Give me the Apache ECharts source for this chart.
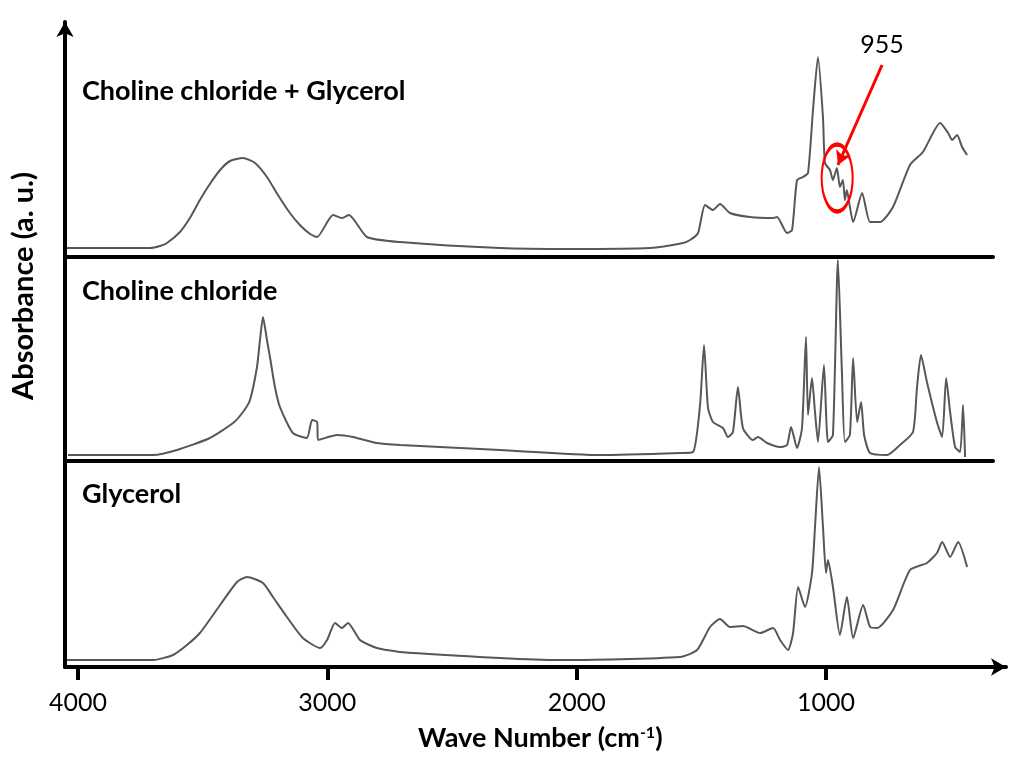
<!DOCTYPE html>
<html><head><meta charset="utf-8">
<script src="https://cdn.jsdelivr.net/npm/echarts@6/dist/echarts.min.js"></script>
<style>html,body{margin:0;padding:0;background:#fff}#c{width:1015px;height:758px}</style>
</head><body><div id="c"></div><script>
// Wave numbers (cm-1) and absorbance (a. u.)
const wnMix = [4044,3711,3671,3643,3591,3551,3511,3471,3430,3390,3338,3290,3242,3198,3150,3110,3069,3041,2977,2941,2913,2841,2708,2307,2027,1706,1573,1545,1513,1485,1453,1425,1385,1305,1212,1196,1156,1136,1116,1092,1072,1052,1032,1012,1004,984,972,956,944,932,924,916,904,891,855,823,783,731,663,611,542,510,494,474,454,434];
const absMix = [0.09,0.09,0.11,0.14,0.25,0.39,0.57,0.73,0.87,0.96,0.99,0.94,0.80,0.62,0.44,0.32,0.23,0.20,0.42,0.39,0.42,0.20,0.15,0.09,0.08,0.09,0.14,0.17,0.24,0.52,0.47,0.53,0.44,0.40,0.39,0.40,0.24,0.27,0.77,0.80,0.84,1.47,2.00,1.40,0.94,0.87,0.77,0.89,0.70,0.77,0.57,0.67,0.50,0.35,0.64,0.35,0.35,0.50,0.92,1.05,1.34,1.24,1.17,1.22,1.10,1.02];

const wnChCl = [4040,3699,3603,3471,3378,3338,3310,3282,3270,3258,3242,3230,3210,3190,3138,3082,3061,3041,3037,2961,2897,2801,2708,2307,1906,1585,1533,1505,1489,1473,1453,1413,1393,1373,1353,1333,1293,1273,1236,1184,1156,1140,1116,1096,1080,1072,1056,1044,1032,1008,992,972,952,936,924,904,891,875,859,847,823,755,703,651,635,619,595,555,534,518,502,482,462,450,442];
const absChCl = [0.06,0.06,0.11,0.23,0.38,0.49,0.61,0.94,1.21,1.44,1.21,1.04,0.74,0.54,0.28,0.23,0.41,0.39,0.21,0.26,0.24,0.18,0.16,0.11,0.06,0.08,0.09,0.56,1.16,0.53,0.39,0.33,0.24,0.29,0.74,0.33,0.21,0.24,0.18,0.14,0.16,0.34,0.13,0.33,1.24,0.46,0.83,0.49,0.19,0.96,0.19,0.26,2.01,0.89,0.19,0.26,1.03,0.39,0.59,0.26,0.08,0.06,0.16,0.29,0.73,1.06,0.79,0.39,0.24,0.83,0.49,0.14,0.09,0.56,0.04];

const wnGly = [4044,3699,3619,3563,3511,3430,3362,3322,3258,3218,3162,3098,3029,3001,2969,2941,2917,2869,2801,2708,2307,2067,1585,1517,1465,1425,1385,1333,1264,1212,1184,1152,1132,1112,1084,1056,1044,1028,1012,1000,992,972,944,916,891,851,823,795,731,663,595,555,534,502,470,434];
const absGly = [0.07,0.07,0.12,0.22,0.34,0.62,0.85,0.90,0.84,0.70,0.50,0.29,0.19,0.27,0.44,0.39,0.44,0.27,0.19,0.15,0.09,0.07,0.10,0.17,0.40,0.48,0.40,0.41,0.34,0.39,0.27,0.17,0.34,0.80,0.60,0.94,1.40,2.00,1.40,0.94,1.07,0.80,0.32,0.70,0.29,0.62,0.40,0.39,0.57,0.97,1.04,1.14,1.25,1.10,1.25,1.00];

const panelLabels = ['Choline chloride + Glycerol', 'Choline chloride', 'Glycerol'];
const xTicks = [4000, 3000, 2000, 1000];
const markedPeak = 955;            // annotated band (cm-1)
const markedPeakAbs = 0.79;        // ellipse centre height
const markLabelPos = [775, 2.12];  // "955" label position
const arrowFrom = [775, 1.92];
const arrowTo = [952, 0.92];

const FONT = 'Lato, "Open Sans", sans-serif';
const zip = (a, b) => a.map((v, i) => [v, b[i]]);

const chart = echarts.init(document.getElementById('c'), null, {renderer: 'canvas'});

const blackLine = {show: true, lineStyle: {color: '#000', width: 4}};
const hidden = {show: false};
function sepXAxis(gi, min) {
  return {type: 'value', gridIndex: gi, inverse: true, min: min, max: 4052,
    axisLine: blackLine, axisTick: hidden, axisLabel: hidden, splitLine: hidden};
}
function yAx(gi, max, arrow) {
  return {type: 'value', gridIndex: gi, min: 0, max: max,
    axisLine: {show: true, lineStyle: {color: '#000', width: 4},
      symbol: arrow ? ['none', 'arrow'] : 'none', symbolSize: [13, 15]},
    axisTick: hidden, axisLabel: hidden, splitLine: hidden};
}
const lineStyle = {color: '#575757', width: 2};
function spec(gi, data) {
  return {type: 'line', xAxisIndex: gi, yAxisIndex: gi, data: data, showSymbol: false,
    smooth: 0.2, lineStyle: lineStyle, silent: true, animation: false};
}

const bottomX = sepXAxis(2, 278);
bottomX.axisLine = {show: true, lineStyle: {color: '#000', width: 4}, symbol: ['none', 'arrow'], symbolSize: [13, 15]};
bottomX.axisTick = {show: true, customValues: xTicks, length: 13, lineStyle: {color: '#000', width: 4}};
bottomX.axisLabel = {show: true, customValues: xTicks, margin: 23, fontFamily: FONT, fontSize: 25, color: '#000',
  formatter: v => String(v)};

const mixSeries = spec(0, zip(wnMix, absMix));
mixSeries.markPoint = {
  silent: true, animation: false,
  data: [
    {coord: [markedPeak, markedPeakAbs], symbol: 'path://M50,0 A50,50 0 1,1 50,100 A50,50 0 1,1 50,0 Z',
      symbolSize: [31, 67], symbolKeepAspect: false,
      itemStyle: {color: 'rgba(0,0,0,0)', borderColor: '#f00', borderWidth: 3}, label: {show: false}},
    {coord: markLabelPos, symbol: 'circle', symbolSize: 2, itemStyle: {color: 'rgba(0,0,0,0)'},
      label: {show: true, formatter: String(markedPeak), fontFamily: FONT, fontSize: 25, color: '#000', position: 'inside'}}
  ]
};
mixSeries.markLine = {
  silent: true, animation: false, symbol: ['none', 'arrow'], symbolSize: [12, 14],
  lineStyle: {color: '#f00', width: 3, type: 'solid'}, label: {show: false},
  data: [[{coord: arrowFrom}, {coord: arrowTo}]]
};

const titleStyle = {fontFamily: FONT, fontWeight: 'bold', fontSize: 27, color: '#000'};
chart.setOption({
  backgroundColor: '#fff',
  animation: false,
  title: [
    {text: panelLabels[0], left: 82, top: 78, padding: 0, textStyle: titleStyle},
    {text: panelLabels[1], left: 82, top: 278, padding: 0, textStyle: titleStyle},
    {text: panelLabels[2], left: 82, top: 481, padding: 0, textStyle: titleStyle},
    {text: 'Wave Number (cm{sup|-1})', left: 418, top: 725, padding: 0,
      textStyle: {fontFamily: FONT, fontWeight: 'bold', fontSize: 27, color: '#000',
        rich: {sup: {fontFamily: FONT, fontWeight: 'bold', fontSize: 16, color: '#000', verticalAlign: 'top', lineHeight: 27}}}}
  ],
  graphic: [
    {type: 'text', x: 24, y: 286, rotation: Math.PI / 2,
      style: {text: 'Absorbance (a. u.)', fontFamily: FONT, fontWeight: 'bold', fontSize: 29, fill: '#000',
        textAlign: 'center', textVerticalAlign: 'middle'}}
  ],
  grid: [
    {left: 65, top: 22, width: 928, height: 235},
    {left: 65, top: 257, width: 928, height: 204},
    {left: 65, top: 461, width: 941, height: 206}
  ],
  xAxis: [sepXAxis(0, 330), sepXAxis(1, 330), bottomX],
  yAxis: [yAx(0, 2.35, true), yAx(1, 2.04, false), yAx(2, 2.06, false)],
  series: [mixSeries, spec(1, zip(wnChCl, absChCl)), spec(2, zip(wnGly, absGly))]
});
</script></body></html>
